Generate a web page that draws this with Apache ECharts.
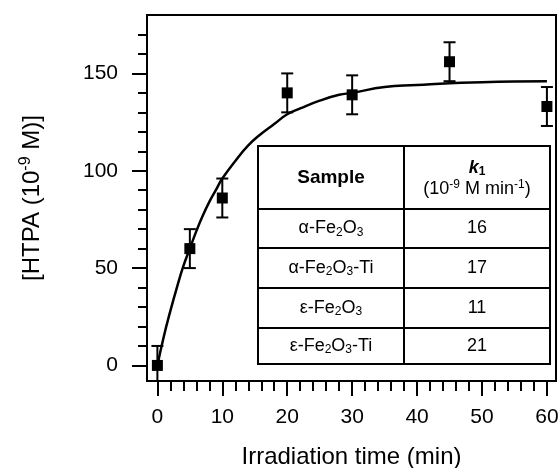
<!DOCTYPE html>
<html>
<head>
<meta charset="utf-8">
<script src="https://cdn.jsdelivr.net/npm/echarts@6/dist/echarts.min.js"></script>
<style>
  html, body { margin: 0; padding: 0; background: #fff; }
  #chart { width: 560px; height: 468px; }
</style>
</head>
<body>
<div id="chart"></div>
<script>
// Measured HTPA concentration vs irradiation time
const times = [0, 5, 10, 20, 30, 45, 60];
const htpa = [0, 60, 86, 140, 139, 156, 133];
const errors = [10, 10, 10, 10, 10, 10, 10];

// First-order kinetic fit curve
const fitTimes = [0, 1, 2, 3, 4, 5, 6, 7, 8, 9, 10, 12, 14, 16, 18, 20, 22, 25, 28, 30, 35, 40, 45, 50, 55, 60];
const fitValues = [0, 15, 28, 40, 51, 60, 69, 77, 84, 90, 96, 105, 113, 119, 124, 129, 132, 136, 139, 140, 143, 144, 145, 145.5, 145.8, 146];

// Axis ticks
const xMajorTicks = [0, 10, 20, 30, 40, 50, 60];
const xMinorTicks = [0, 2, 4, 6, 8, 10, 12, 14, 16, 18, 20, 22, 24, 26, 28, 30, 32, 34, 36, 38, 40, 42, 44, 46, 48, 50, 52, 54, 56, 58, 60];
const yMajorTicks = [0, 50, 100, 150];
const yMinorTicks = [0, 10, 20, 30, 40, 50, 60, 70, 80, 90, 100, 110, 120, 130, 140, 150, 160, 170];

// Rate constant table
const samples = [
  '{t|α-Fe}{sub|2}{t|O}{sub|3}',
  '{t|α-Fe}{sub|2}{t|O}{sub|3}{t|-Ti}',
  '{t|ε-Fe}{sub|2}{t|O}{sub|3}',
  '{t|ε-Fe}{sub|2}{t|O}{sub|3}{t|-Ti}'
];
const rateConstants = ['16', '17', '11', '21'];

const FONT = '"Liberation Sans", Arial, Helvetica, sans-serif';
const chart = echarts.init(document.getElementById('chart'));

const pointData = times.map((t, i) => [t, htpa[i]]);
const errData = times.map((t, i) => [t, htpa[i] - errors[i], htpa[i] + errors[i]]);
const fitData = fitTimes.map((t, i) => [t, fitValues[i]]);

const richText = {
  t: { fontSize: 18, fontFamily: FONT, color: '#000' },
  sub: { fontSize: 12, fontFamily: FONT, color: '#000', padding: [8, 0, 0, 0] },
  sup: { fontSize: 12, fontFamily: FONT, color: '#000', padding: [0, 0, 9, 0] },
  kb: { fontSize: 18, fontFamily: FONT, fontWeight: 'bold', fontStyle: 'italic', color: '#000' },
  ksub: { fontSize: 12, fontFamily: FONT, fontWeight: 'bold', color: '#000', padding: [8, 0, 0, 0] }
};

// Table geometry (pixel layout of the inset)
const tbl = { left: 258, right: 550, top: 146, bottom: 364, mid: 404, rows: [209, 248, 288, 328] };
const tableEls = [];
const lineStyle = { stroke: '#000', lineWidth: 2 };
tableEls.push({ type: 'rect', shape: { x: tbl.left, y: tbl.top, width: tbl.right - tbl.left, height: tbl.bottom - tbl.top },
  style: { fill: '#fff', stroke: '#000', lineWidth: 2 } });
tableEls.push({ type: 'line', shape: { x1: tbl.mid, y1: tbl.top, x2: tbl.mid, y2: tbl.bottom }, style: lineStyle });
tbl.rows.forEach(y => tableEls.push({ type: 'line', shape: { x1: tbl.left, y1: y, x2: tbl.right, y2: y }, style: lineStyle }));
const c1 = (tbl.left + tbl.mid) / 2, c2 = (tbl.mid + tbl.right) / 2;
tableEls.push({ type: 'text', x: c1, y: (tbl.top + tbl.rows[0]) / 2,
  style: { text: 'Sample', font: 'bold 19px ' + FONT, fill: '#000', align: 'center', verticalAlign: 'middle' } });
tableEls.push({ type: 'text', x: c2, y: 168,
  style: { text: '{kb|k}{ksub|1}', rich: richText, align: 'center', verticalAlign: 'middle' } });
tableEls.push({ type: 'text', x: c2, y: 189,
  style: { text: '{t|(10}{sup|-9}{t| M min}{sup|-1}{t|)}', rich: richText, align: 'center', verticalAlign: 'middle' } });
const rowBounds = [tbl.rows[0], tbl.rows[1], tbl.rows[2], tbl.rows[3], tbl.bottom];
samples.forEach((s, i) => {
  const cy = (rowBounds[i] + rowBounds[i + 1]) / 2;
  tableEls.push({ type: 'text', x: c1, y: cy, style: { text: s, rich: richText, align: 'center', verticalAlign: 'middle' } });
  tableEls.push({ type: 'text', x: c2, y: cy, style: { text: rateConstants[i], font: '18px ' + FONT, fill: '#000', align: 'center', verticalAlign: 'middle' } });
});

const axisCommon = { color: '#000', fontFamily: FONT };

chart.setOption({
  animation: false,
  backgroundColor: '#fff',
  grid: {
    left: 147, right: 4, top: 15, bottom: 87, outerBoundsMode: 'none', containLabel: false,
    show: true, borderColor: '#000', borderWidth: 2, backgroundColor: 'transparent'
  },
  xAxis: [
    {
      type: 'value', min: -1.6, max: 61.4, position: 'bottom',
      name: 'Irradiation time (min)', nameLocation: 'middle', nameGap: 64,
      nameTextStyle: { fontSize: 24, fontFamily: FONT, color: '#000' },
      axisLine: { show: true, onZero: false, lineStyle: { color: '#000', width: 2 } },
      axisTick: { show: true, inside: false, length: 15, customValues: xMajorTicks, lineStyle: { color: '#000', width: 2 } },
      axisLabel: { show: true, customValues: xMajorTicks, fontSize: 21, margin: 26, ...axisCommon },
      splitLine: { show: false }
    },
    {
      type: 'value', min: -1.6, max: 61.4, position: 'bottom',
      axisLine: { show: false, onZero: false },
      axisTick: { show: true, inside: false, length: 10, customValues: xMinorTicks, lineStyle: { color: '#000', width: 2 } },
      axisLabel: { show: false },
      splitLine: { show: false }
    }
  ],
  yAxis: [
    {
      type: 'value', min: -8, max: 180, position: 'left',
      name: '[HTPA (10{sup|-9} M)]', nameLocation: 'middle', nameGap: 101, nameRotate: 90,
      nameTextStyle: { fontSize: 24, fontFamily: FONT, color: '#000',
        rich: { sup: { fontSize: 16, fontFamily: FONT, color: '#000', padding: [0, 0, 12, 0] } } },
      axisLine: { show: true, onZero: false, lineStyle: { color: '#000', width: 2 } },
      axisTick: { show: true, inside: false, length: 15, customValues: yMajorTicks, lineStyle: { color: '#000', width: 2 } },
      axisLabel: { show: true, customValues: yMajorTicks, fontSize: 21, margin: 29, ...axisCommon },
      splitLine: { show: false }
    },
    {
      type: 'value', min: -8, max: 180, position: 'left',
      axisLine: { show: false, onZero: false },
      axisTick: { show: true, inside: false, length: 9, customValues: yMinorTicks, lineStyle: { color: '#000', width: 2 } },
      axisLabel: { show: false },
      splitLine: { show: false }
    }
  ],
  series: [
    {
      type: 'line', data: fitData, smooth: true, showSymbol: false, symbol: 'none',
      lineStyle: { color: '#000', width: 2.5 }, z: 2, clip: true
    },
    {
      type: 'custom', data: errData, clip: true, z: 3,
      renderItem: function (params, api) {
        const x = api.value(0);
        const lo = api.coord([x, api.value(1)]);
        const hi = api.coord([x, api.value(2)]);
        const cap = 6;
        const st = { stroke: '#000', lineWidth: 2 };
        return {
          type: 'group',
          children: [
            { type: 'line', shape: { x1: hi[0], y1: hi[1], x2: lo[0], y2: lo[1] }, style: st },
            { type: 'line', shape: { x1: hi[0] - cap, y1: hi[1], x2: hi[0] + cap, y2: hi[1] }, style: st },
            { type: 'line', shape: { x1: lo[0] - cap, y1: lo[1], x2: lo[0] + cap, y2: lo[1] }, style: st }
          ]
        };
      }
    },
    {
      type: 'scatter', data: pointData, symbol: 'rect', symbolSize: 11,
      itemStyle: { color: '#000', opacity: 1 }, z: 4
    }
  ],
  graphic: [{ type: 'group', z: 10, children: tableEls }]
});
</script>
</body>
</html>
